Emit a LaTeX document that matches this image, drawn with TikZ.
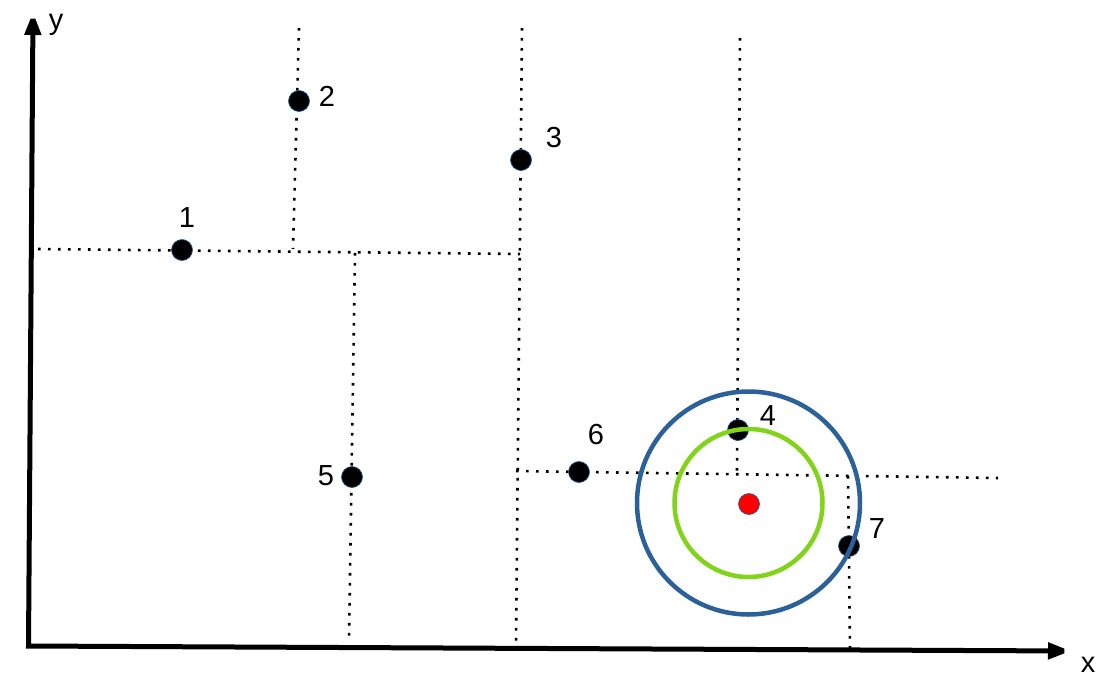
\documentclass[tikz,border=0pt]{standalone}
\usepackage{fontspec}
\setmainfont{Liberation Sans}
\usetikzlibrary{arrows.meta}
\definecolor{ringblue}{RGB}{44,96,152}
\definecolor{ringgreen}{RGB}{129,212,26}
\begin{document}
\begin{tikzpicture}[x=1pt,y=-1pt,>={Triangle[length=23pt,width=16pt]},
  point/.style = {draw=ringblue, circle, fill = black, line width=0.7pt, inner sep = 0pt, minimum size=21pt},
  guide/.style = {line width=2.6pt, dash pattern=on 2.6pt off 7.4pt},
  num/.style = {font=\fontsize{29}{34}\selectfont, inner sep=0pt},]
\useasboundingbox (0,0) rectangle (1108,678);
% axes
\coordinate (O) at (28.5,646);
\coordinate (Y) at (33,12);
\coordinate (X) at (1071,651);
\draw[line width=5pt,miter limit=2,<->] (Y)--(O)--(X);
\node[num] (ly) at (56,25) {y};
\node[num] (lx) at (1088,665) {x};
% guides
\coordinate (h1a) at (38,249);
\coordinate (h1b) at (520,254);
\coordinate (v2a) at (299,28);
\coordinate (v2b) at (293,249);
\coordinate (v3a) at (522,28);
\coordinate (v3b) at (516,645);
\coordinate (v5a) at (355,253);
\coordinate (v5b) at (349,640);
\coordinate (h6a) at (516,471);
\coordinate (h6b) at (998,478);
\coordinate (v4a) at (740,38);
\coordinate (v4b) at (737,474);
\coordinate (v7a) at (848,476);
\coordinate (v7b) at (850,648);
\draw[guide] (h1a)--(h1b);
\draw[guide] (v2a)--(v2b);
\draw[guide] (v3a)--(v3b);
\draw[guide] (v5a)--(v5b);
\draw[guide] (h6a)--(h6b);
\draw[guide] (v4a)--(v4b);
\draw[guide] (v7a)--(v7b);
% points under the rings
\node (P4) at (738,430)[point] {};
\node (P7) at (849,546)[point] {};
% rings
\coordinate (C) at (748.5,503);
\draw[ringblue,line width=4.5pt] (C) circle[radius=111.5pt];
\draw[ringgreen,line width=4.5pt] (C) circle[radius=74pt];
% points
\node (P1) at (182,250)[point] {};
\node (P2) at (299,101)[point] {};
\node (P3) at (521,160)[point] {};
\node (P5) at (352,477)[point] {};
\node (P6) at (579,472)[point] {};
\node (Q) at (749,504)[point,fill=red] {};
\node[num] (L1) at (187,218) {1};
\node[num] (L2) at (327,96) {2};
\node[num] (L3) at (554,138) {3};
\node[num] (L4) at (768,416) {4};
\node[num] (L5) at (326,476) {5};
\node[num] (L6) at (596,435) {6};
\node[num] (L7) at (877,529) {7};
\end{tikzpicture}
\end{document}
